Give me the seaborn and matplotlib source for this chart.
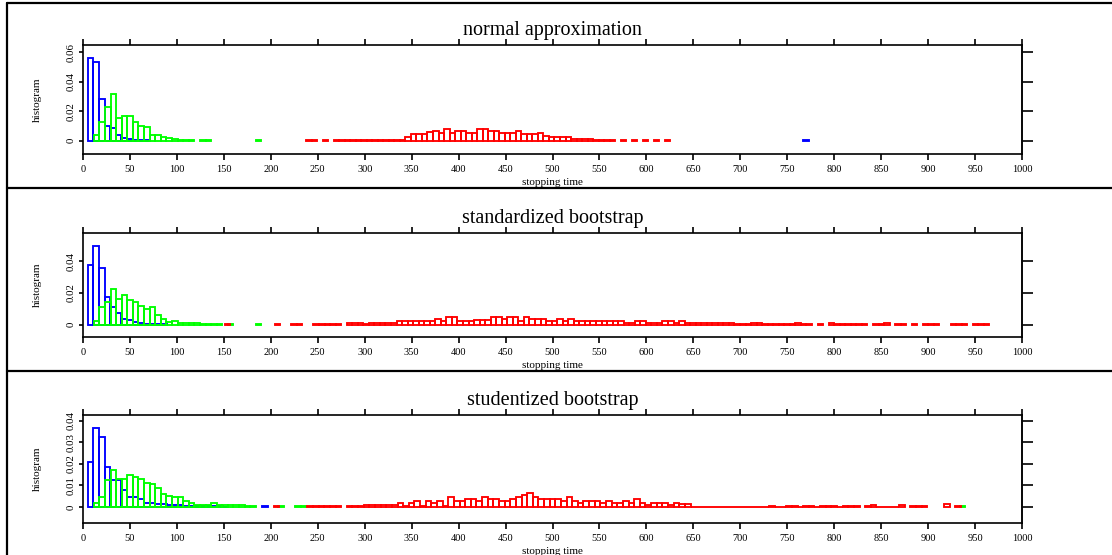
import numpy as np
import matplotlib
matplotlib.use("Agg")
import matplotlib.pyplot as plt
from matplotlib.lines import Line2D
import seaborn as sns

# ---------------- data (density per bin) ----------------
titles = ["normal approximation", "standardized bootstrap", "studentized bootstrap"]
xlabel = "stopping time"
ylabel = "histogram"
xticks = list(range(0, 1001, 50))
yticks_p1 = [0, 0.02, 0.04, 0.06]
yticks_p2 = [0, 0.02, 0.04]
yticks_p3 = [0, 0.01, 0.02, 0.03, 0.04]
ylims = [(-0.009, 0.0648), (-0.0077, 0.0578), (-0.0073, 0.0426)]

# panel 1 : normal approximation
blue1_start, blue1_width = 5, 6
blue1 = [0.0561, 0.0536, 0.0281, 0.0100, 0.0088, 0.0040, 0.0018, 0.0010, 0.0007,
         0.0005, 0.0003]
blue1_extra_x = [770]
blue1_extra_h = [0.0003]

green1_start, green1_width = 11.5, 5.95
green1 = [0.0040, 0.0129, 0.0230, 0.0319, 0.0154, 0.0167, 0.0167, 0.0124, 0.0102,
          0.0090, 0.0038, 0.0038, 0.0027, 0.0018, 0.0014, 0.0007, 0.0005, 0.0003,
          0.0, 0.0002, 0.0002, 0.0, 0.0, 0.0, 0.0, 0.0, 0.0, 0.0, 0.0, 0.0003]

red1_start, red1_width = 237.5, 5.88
red1 = [0.0002, 0.0002, 0.0, 0.0002, 0.0, 0.0002, 0.0002, 0.0002, 0.0002,
        0.0008, 0.0008, 0.0008, 0.0008, 0.0008, 0.0008, 0.0008, 0.0008, 0.0008,
        0.0027, 0.0043, 0.0043, 0.0043, 0.0057, 0.0068, 0.0054, 0.0077, 0.0054,
        0.0068, 0.0068, 0.0054, 0.0054, 0.0077, 0.0077, 0.0066, 0.0066, 0.0054,
        0.0054, 0.0054, 0.0066, 0.0045, 0.0045, 0.0045, 0.0054, 0.0032, 0.0027,
        0.0027, 0.0027, 0.0027, 0.0014, 0.0014, 0.0014, 0.0014, 0.0006, 0.0004,
        0.0002, 0.0002, 0.0, 0.0002, 0.0, 0.0002, 0.0, 0.0002, 0.0, 0.0002, 0.0,
        0.0002]

# panel 2 : standardized bootstrap
blue2_start, blue2_width = 5, 6
blue2 = [0.0377, 0.0497, 0.0354, 0.0176, 0.0109, 0.0071, 0.0038, 0.0029, 0.0015,
         0.0008, 0.0005, 0.0003, 0.0002, 0.0002]

green2_start, green2_width = 11.5, 5.95
green2 = [0.0025, 0.0109, 0.0143, 0.0226, 0.0164, 0.0189, 0.0155, 0.0140, 0.0120,
          0.0096, 0.0109, 0.0059, 0.0036, 0.0015, 0.0025, 0.0008, 0.0008, 0.0008,
          0.0008, 0.0006, 0.0003, 0.0002, 0.0002, 0.0, 0.0002, 0.0, 0.0, 0.0, 0.0,
          0.0002]

red2_start, red2_width = 151, 5.9
red2 = [0.0003, 0.0, 0.0, 0.0, 0.0, 0.0, 0.0, 0.0, 0.0, 0.0003, 0.0, 0.0, 0.0003,
        0.0003, 0.0, 0.0, 0.0003, 0.0003, 0.0003, 0.0003, 0.0003, 0.0,
        0.0013, 0.0013, 0.0013, 0.0006, 0.0013, 0.0013, 0.0013, 0.0013, 0.0013,
        0.0021, 0.0021, 0.0021, 0.0021, 0.0021, 0.0021, 0.0021, 0.0034, 0.0021,
        0.0050, 0.0050, 0.0021, 0.0021, 0.0021, 0.0030, 0.0030, 0.0030, 0.0050,
        0.0050, 0.0034, 0.0050, 0.0050, 0.0021, 0.0050, 0.0034, 0.0034, 0.0034,
        0.0021, 0.0021, 0.0034, 0.0021, 0.0034, 0.0021, 0.0021, 0.0021, 0.0021,
        0.0021, 0.0021, 0.0021, 0.0021, 0.0021, 0.0013, 0.0013, 0.0023, 0.0021,
        0.0008, 0.0008, 0.0008, 0.0021, 0.0021, 0.0008, 0.0021, 0.0008, 0.0008,
        0.0008, 0.0008, 0.0008, 0.0008, 0.0008, 0.0008, 0.0008, 0.0004, 0.0003,
        0.0003, 0.0012, 0.0012, 0.0003, 0.0003, 0.0003, 0.0003, 0.0003, 0.0003,
        0.0012, 0.0003, 0.0003, 0.0, 0.0003, 0.0, 0.0012, 0.0003, 0.0003, 0.0003,
        0.0003, 0.0003, 0.0003, 0.0, 0.0003, 0.0003, 0.0012, 0.0, 0.0003, 0.0003,
        0.0, 0.0003, 0.0, 0.0003, 0.0003, 0.0003, 0.0, 0.0, 0.0003, 0.0003, 0.0003,
        0.0, 0.0003, 0.0003, 0.0003]

# panel 3 : studentized bootstrap
blue3_start, blue3_width = 5, 6
blue3 = [0.0210, 0.0366, 0.0323, 0.0184, 0.0125, 0.0125, 0.0079, 0.0045, 0.0045,
         0.0036, 0.0020, 0.0017, 0.0015, 0.0012, 0.0010, 0.0008, 0.0007, 0.0006,
         0.0005, 0.0004, 0.0004, 0.0003, 0.0003, 0.0003, 0.0002, 0.0, 0.0, 0.0,
         0.0, 0.0, 0.0, 0.0003]

green3_start, green3_width = 11.5, 5.95
green3 = [0.0019, 0.0045, 0.0124, 0.0173, 0.0128, 0.0131, 0.0148, 0.0140, 0.0131,
          0.0113, 0.0105, 0.0088, 0.0062, 0.0053, 0.0045, 0.0045, 0.0026, 0.0019,
          0.0011, 0.0011, 0.0011, 0.0020, 0.0011, 0.0011, 0.0011, 0.0011, 0.0011,
          0.0003, 0.0003, 0.0, 0.0, 0.0, 0.0, 0.0003, 0.0, 0.0, 0.0003, 0.0003]
green3_extra_x = [938]
green3_extra_h = [0.0003]

red3_start, red3_width = 203, 6
red3 = [0.0003, 0.0, 0.0, 0.0, 0.0, 0.0, 0.0003, 0.0003, 0.0003, 0.0003, 0.0003,
        0.0003, 0.0, 0.0003, 0.0003, 0.0003,
        0.0008, 0.0008, 0.0008, 0.0008, 0.0008, 0.0008,
        0.0017, 0.0006, 0.0017, 0.0026, 0.0006, 0.0026, 0.0017, 0.0026, 0.0006,
        0.0045, 0.0026, 0.0026, 0.0035, 0.0035, 0.0026, 0.0045, 0.0035, 0.0035,
        0.0026, 0.0026, 0.0035, 0.0045, 0.0054, 0.0063, 0.0045, 0.0035, 0.0035,
        0.0035, 0.0035, 0.0026, 0.0045, 0.0026, 0.0017, 0.0026, 0.0026, 0.0026,
        0.0017, 0.0026, 0.0017, 0.0017, 0.0026, 0.0017, 0.0035, 0.0017, 0.0009,
        0.0017, 0.0017, 0.0017, 0.0009, 0.0017, 0.0013, 0.0013,
        0.0002, 0.0002, 0.0002, 0.0002, 0.0002, 0.0002, 0.0002, 0.0002, 0.0002,
        0.0002, 0.0002, 0.0002, 0.0002, 0.0002, 0.0005, 0.0002, 0.0002, 0.0005,
        0.0005, 0.0002, 0.0005, 0.0005, 0.0002, 0.0005, 0.0005, 0.0005, 0.0002,
        0.0005, 0.0005, 0.0005, 0.0, 0.0003, 0.0008, 0.0002, 0.0002, 0.0002,
        0.0002, 0.0008, 0.0, 0.0003, 0.0003, 0.0003, 0.0, 0.0, 0.0, 0.0012, 0.0,
        0.0003]

BLUE, GREEN, RED = "#0000ff", "#00ff00", "#ff0000"

panels = [
    [(blue1_start, blue1_width, blue1, blue1_extra_x, blue1_extra_h, BLUE),
     (green1_start, green1_width, green1, [], [], GREEN),
     (red1_start, red1_width, red1, [], [], RED)],
    [(blue2_start, blue2_width, blue2, [], [], BLUE),
     (green2_start, green2_width, green2, [], [], GREEN),
     (red2_start, red2_width, red2, [], [], RED)],
    [(blue3_start, blue3_width, blue3, [], [], BLUE),
     (green3_start, green3_width, green3, green3_extra_x, green3_extra_h, GREEN),
     (red3_start, red3_width, red3, [], [], RED)],
]
yticks_all = [yticks_p1, yticks_p2, yticks_p3]

# ---------------- style ----------------
sns.set_theme(style="white")
plt.rcParams["font.family"] = ["Liberation Serif", "DejaVu Serif"]
plt.rcParams["axes.linewidth"] = 1.2

W, H = 1112, 555
fig = plt.figure(figsize=(W / 100, H / 100), dpi=100)

# axes boxes in pixels: (top, bottom)
boxes = [(45, 154), (232.7, 337), (415, 522.7)]
x0_px, x1_px = 83, 1022

LW = 1.35


def draw_series(ax, start, width, heights, ex_x, ex_h, color):
    heights = np.asarray(heights, dtype=float)
    n = len(heights)
    edges = start + width * np.arange(n + 1)
    centers = edges[:-1] + width / 2
    x = list(centers)
    w = list(heights)
    bins = list(edges)
    for ex, eh in zip(ex_x, ex_h):
        k = np.floor((ex - start) / width)
        lo = start + k * width
        x.append(lo + width / 2)
        w.append(eh)
    if ex_x:
        kmax = int(np.floor((max(ex_x) - start) / width)) + 1
        bins = list(start + width * np.arange(kmax + 1))
    before = len(ax.patches)
    sns.histplot(x=x, weights=w, bins=bins, stat="count", fill=False,
                 color=color, linewidth=LW, ax=ax, element="bars")
    for p in ax.patches[before:]:
        if p.get_height() <= 0:
            p.set_visible(False)
        else:
            p.set_edgecolor(color)


for i, (top, bot) in enumerate(boxes):
    ax = fig.add_axes([x0_px / W, 1 - bot / H, (x1_px - x0_px) / W, (bot - top) / H])
    ax.set_facecolor("white")
    for series in panels[i]:
        draw_series(ax, *series)
    ax.set_xlim(0, 1000)
    ax.set_ylim(*ylims[i])
    ax.set_xticks(xticks)
    ax.set_xticklabels([str(t) for t in xticks])
    yt = yticks_all[i]
    ax.set_yticks(yt)
    ax.set_yticklabels(["0" if t == 0 else f"{t:g}" for t in yt])
    for s in ax.spines.values():
        s.set_visible(True)
        s.set_color("black")
        s.set_linewidth(1.2)
    ax.tick_params(axis="x", which="major", direction="out", top=True, bottom=True,
                   length=4, width=1.2, labelsize=7.5, pad=4, colors="black")
    ax.tick_params(axis="y", which="major", direction="out", left=True, right=False,
                   length=3, width=1.2, labelsize=7.8, pad=2, labelrotation=90,
                   colors="black")
    for lab in ax.get_yticklabels():
        lab.set_verticalalignment("center")
    sec = ax.secondary_yaxis("right")
    sec.set_yticks(yt)
    sec.set_yticklabels([])
    sec.tick_params(direction="out", length=8, width=1.2, colors="black")
    sec.spines["right"].set_linewidth(1.2)
    ax.set_xlabel(xlabel, fontsize=8, labelpad=3, color="black")
    ax.set_ylabel(ylabel, fontsize=8, labelpad=18, color="black")
    ax.set_title(titles[i], fontsize=14.5, pad=7, color="black")
    ax.grid(False)

# outer frame lines
fig.add_artist(Line2D([7 / W, 7 / W], [0, 1 - 3 / H], transform=fig.transFigure,
                      color="black", linewidth=1.6))
for ypx in (3, 188, 371):
    fig.add_artist(Line2D([7 / W, 1], [1 - ypx / H, 1 - ypx / H],
                          transform=fig.transFigure, color="black", linewidth=1.6))

fig.savefig("out.png", dpi=100, facecolor="white")
